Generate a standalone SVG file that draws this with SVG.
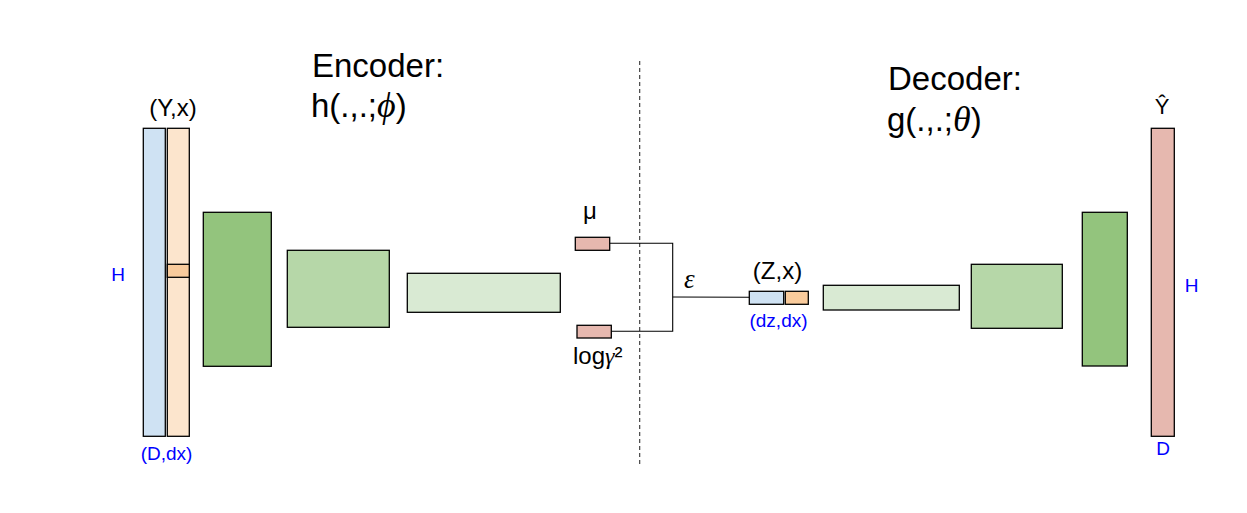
<svg xmlns="http://www.w3.org/2000/svg" width="1247" height="513" viewBox="0 0 1247 513">
<style>
.b{stroke:#000;stroke-width:1.3}
.t{font-family:"Liberation Sans",Arial,sans-serif;fill:#000}
.big{font-size:33px}
.lab{font-size:24px}
.blue{font-family:"Liberation Sans",Arial,sans-serif;fill:#0000ff;font-size:19px}
.m{font-family:"Liberation Serif","Times New Roman",serif;font-style:italic}
.c{fill:none;stroke:#000;stroke-width:1.1}
</style>
<rect width="1247" height="513" fill="#fff"/>
<g id="titles">
<text class="t big" x="312" y="77">Encoder:</text>
<text class="t big" x="311" y="117">h(.,.;<tspan class="m" font-size="36">ϕ</tspan>)</text>
<text class="t big" x="888" y="90">Decoder:</text>
<text class="t big" x="887" y="131">g(.,.;<tspan class="m" font-size="36">θ</tspan>)</text>
</g>
<g id="input">
<rect class="b" x="143.3" y="128.3" width="22" height="308" fill="#cfe2f3"/>
<rect class="b" x="167.3" y="128.3" width="22" height="308" fill="#fce5cd"/>
<rect class="b" x="167.3" y="264.3" width="22" height="13" fill="#f9cb9c"/>
<text class="t lab" x="173" y="116" text-anchor="middle">(Y,x)</text>
<text class="blue" x="118" y="281" text-anchor="middle">H</text>
<text class="blue" x="166.5" y="460" text-anchor="middle">(D,dx)</text>
</g>
<g id="enc1"><rect class="b" x="203.3" y="212.3" width="68" height="154" fill="#93c47d"/></g>
<g id="enc2"><rect class="b" x="287.3" y="250.3" width="102" height="77" fill="#b6d7a8"/></g>
<g id="enc3"><rect class="b" x="407.3" y="273.3" width="153" height="39" fill="#d9ead3"/></g>
<g id="mu">
<rect class="b" x="575.3" y="237.3" width="34.4" height="13" fill="#e6b8af"/>
<text class="t lab" x="583" y="219">μ</text>
</g>
<g id="logvar">
<rect class="b" x="577" y="325.3" width="34.3" height="12.7" fill="#e6b8af"/>
<text class="t lab" x="573" y="364">log<tspan class="m">γ</tspan>²</text>
</g>
<g id="divider">
<line x1="639.7" y1="61" x2="639.7" y2="464" stroke="#333" stroke-width="1.1" stroke-dasharray="4,3"/>
</g>
<g id="connectors">
<polyline class="c" points="609.7,243.3 672.7,243.3 672.7,331.3 611.3,331.3"/>
<line class="c" x1="672.7" y1="297" x2="749.3" y2="297.3"/>
<text class="m" x="684" y="288" font-size="27" fill="#000">ε</text>
</g>
<g id="latent">
<rect class="b" x="749.3" y="291.3" width="34.4" height="13" fill="#cfe2f3"/>
<rect class="b" x="785.3" y="291.3" width="23" height="13" fill="#f9cb9c"/>
<text class="t lab" x="777.5" y="279" text-anchor="middle">(Z,x)</text>
<text class="blue" x="778.5" y="327" text-anchor="middle">(dz,dx)</text>
</g>
<g id="dec1"><rect class="b" x="823.3" y="285.3" width="136" height="24.7" fill="#d9ead3"/></g>
<g id="dec2"><rect class="b" x="971.3" y="264.3" width="91" height="64" fill="#b6d7a8"/></g>
<g id="dec3"><rect class="b" x="1082.3" y="212.3" width="45" height="153.7" fill="#93c47d"/></g>
<g id="output">
<rect class="b" x="1151.3" y="128.3" width="23" height="308" fill="#e6b8af"/>
<text class="t" font-size="22" x="1162" y="114" text-anchor="middle">Ŷ</text>
<text class="blue" x="1191.5" y="292" text-anchor="middle">H</text>
<text class="blue" x="1163" y="455" text-anchor="middle">D</text>
</g>
</svg>
